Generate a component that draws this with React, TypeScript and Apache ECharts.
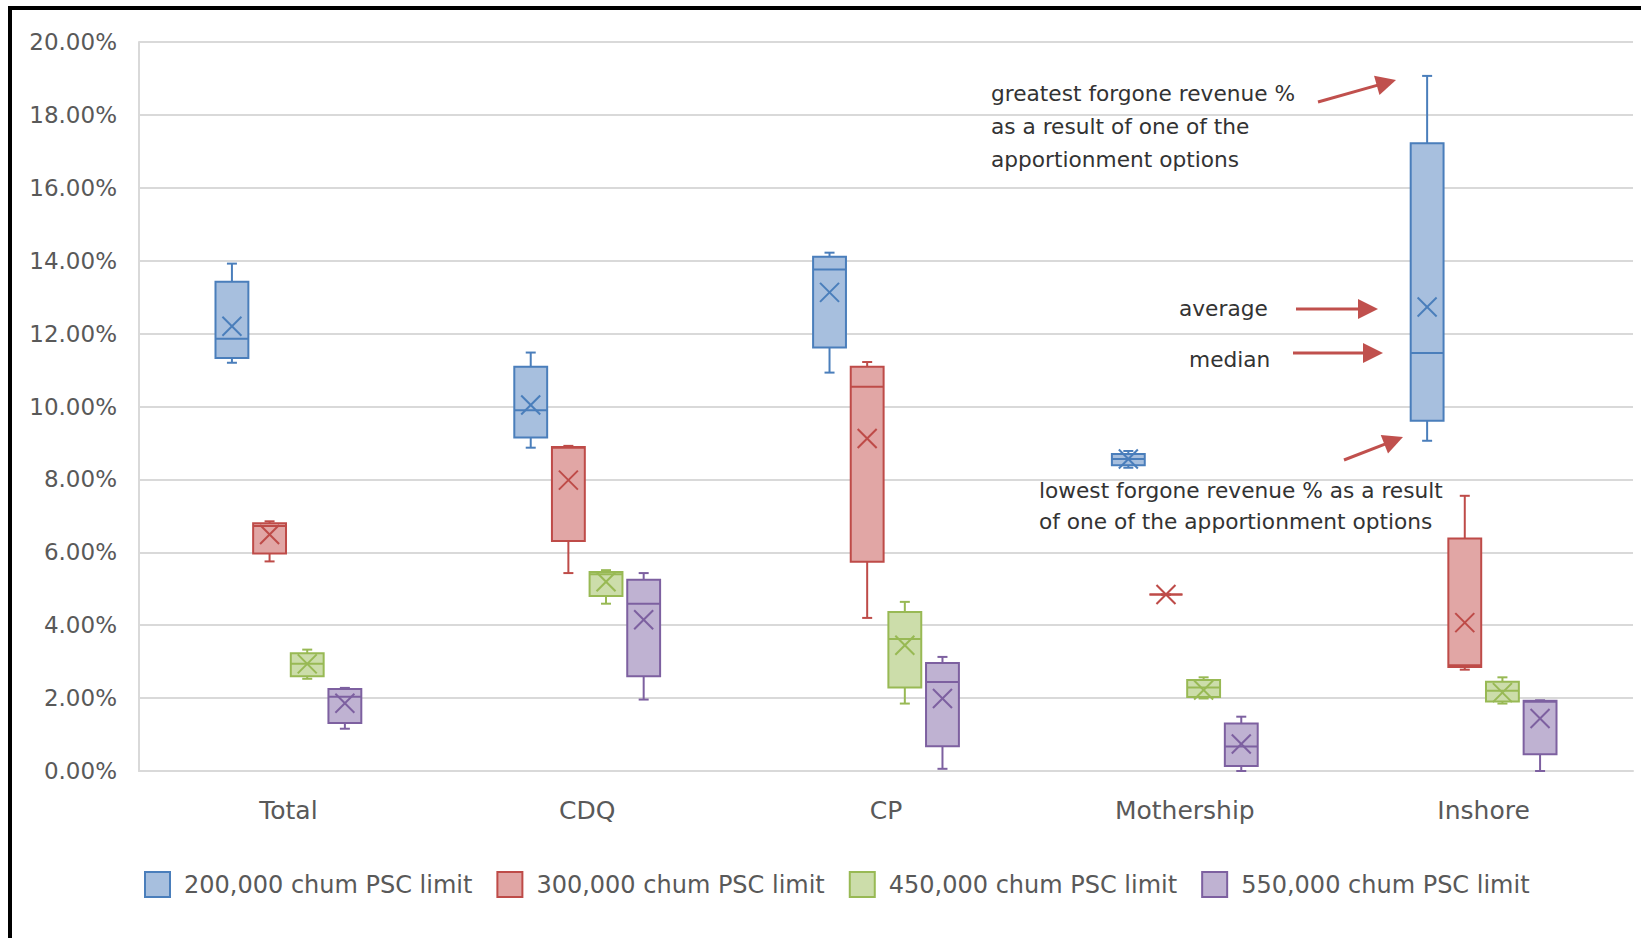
import React, { useEffect, useRef } from "react";
import * as echarts from "echarts";

// ---------- data ----------
const categories = ["Total", "CDQ", "CP", "Mothership", "Inshore"];
const seriesNames = [
  "200,000 chum PSC limit",
  "300,000 chum PSC limit",
  "450,000 chum PSC limit",
  "550,000 chum PSC limit",
];
// each row (one per category): [min, q1, median, q3, max, mean]  (percent)
const limit200k = [
  [11.2, 11.33, 11.86, 13.42, 13.92, 12.2],
  [8.87, 9.15, 9.9, 11.09, 11.48, 10.04],
  [10.93, 11.62, 13.76, 14.11, 14.22, 13.13],
  [8.32, 8.39, 8.56, 8.7, 8.78, 8.56],
  [9.06, 9.61, 11.47, 17.22, 19.07, 12.73],
];
const limit300k = [
  [5.75, 5.97, 6.72, 6.8, 6.85, 6.49],
  [5.43, 6.31, 8.87, 8.89, 8.92, 7.98],
  [4.2, 5.74, 10.54, 11.09, 11.22, 9.12],
  [4.84, 4.84, 4.84, 4.84, 4.84, 4.84],
  [2.78, 2.85, 2.9, 6.38, 7.55, 4.07],
];
const limit450k = [
  [2.53, 2.6, 2.94, 3.23, 3.33, 2.94],
  [4.59, 4.8, 5.4, 5.46, 5.51, 5.19],
  [1.85, 2.29, 3.62, 4.36, 4.64, 3.45],
  [1.99, 2.03, 2.29, 2.5, 2.57, 2.22],
  [1.85, 1.91, 2.2, 2.45, 2.57, 2.15],
];
const limit550k = [
  [1.16, 1.32, 2.04, 2.25, 2.28, 1.86],
  [1.96, 2.6, 4.59, 5.25, 5.43, 4.15],
  [0.06, 0.68, 2.44, 2.96, 3.13, 1.99],
  [0.0, 0.14, 0.67, 1.3, 1.49, 0.74],
  [0.0, 0.46, 1.9, 1.93, 1.94, 1.44],
];
const allSeries = [limit200k, limit300k, limit450k, limit550k];

const yMin = 0;
const yMax = 20;
const yStep = 2;

const annotationGreatest = [
  "greatest forgone revenue %",
  "as a result of one of the",
  "apportionment options",
];
const annotationLowest = [
  "lowest forgone revenue % as a result",
  "of one of the apportionment options",
];
const annotationAverage = "average";
const annotationMedian = "median";

// ---------- styles ----------
const fills = ["#A7BFDE", "#E1A6A5", "#CCDDAA", "#BFB2D2"];
const strokes = ["#4A7EBB", "#BE4B48", "#98B954", "#7D60A0"];
const FONT = '"DejaVu Sans", sans-serif';
const ARROW = "#C0504D";

function arrow(x1: number, y1: number, x2: number, y2: number) {
  const len = Math.hypot(x2 - x1, y2 - y1);
  const ux = (x2 - x1) / len;
  const uy = (y2 - y1) / len;
  const hl = 20;
  const hw = 10;
  const bx = x2 - ux * hl;
  const by = y2 - uy * hl;
  return [
    {
      type: "line",
      shape: { x1, y1, x2: bx + ux * 2, y2: by + uy * 2 },
      style: { stroke: ARROW, lineWidth: 3 },
      z: 100,
    },
    {
      type: "polygon",
      shape: {
        points: [
          [x2, y2],
          [bx - uy * hw, by + ux * hw],
          [bx + uy * hw, by - ux * hw],
        ],
      },
      style: { fill: ARROW },
      z: 100,
    },
  ];
}

function textLine(text: string, x: number, y: number) {
  return {
    type: "text",
    x,
    y,
    z: 100,
    style: {
      text,
      fill: "#333333",
      font: `21.7px ${FONT}`,
      verticalAlign: "middle",
      align: "left",
    },
  };
}

export default function App() {
  const ref = useRef<HTMLDivElement>(null);
  useEffect(() => {
    if (!ref.current) return;
    const chart = echarts.init(ref.current, undefined, { renderer: "svg" });

    const series = allSeries.map((rows, sIdx) => ({
      type: "custom",
      name: seriesNames[sIdx],
      itemStyle: { color: fills[sIdx], borderColor: strokes[sIdx], borderWidth: 2 },
      encode: { x: 0, y: [1, 2, 3, 4, 5, 6] },
      data: rows.map((r, i) => [i, ...r]),
      renderItem: (params: any, api: any) => {
        const cat = api.value(0);
        const bw = api.size([1, 0])[0];
        const off = (params.seriesIndex - 1.5) * bw * 0.126;
        const boxW = bw * 0.11;
        const x = api.coord([cat, 0])[0] + off;
        const y = (v: number) => api.coord([cat, v])[1];
        const mn = y(api.value(1));
        const q1 = y(api.value(2));
        const md = y(api.value(3));
        const q3 = y(api.value(4));
        const mx = y(api.value(5));
        const mean = y(api.value(6));
        const st = strokes[params.seriesIndex];
        const ls = { stroke: st, lineWidth: 2 };
        const cap = 5;
        const xs = 9.5;
        return {
          type: "group",
          children: [
            { type: "line", shape: { x1: x, y1: q3, x2: x, y2: mx }, style: ls },
            { type: "line", shape: { x1: x, y1: q1, x2: x, y2: mn }, style: ls },
            { type: "line", shape: { x1: x - cap, y1: mx, x2: x + cap, y2: mx }, style: ls },
            { type: "line", shape: { x1: x - cap, y1: mn, x2: x + cap, y2: mn }, style: ls },
            {
              type: "rect",
              shape: { x: x - boxW / 2, y: q3, width: boxW, height: q1 - q3 },
              style: { fill: fills[params.seriesIndex], stroke: st, lineWidth: 2 },
            },
            { type: "line", shape: { x1: x - boxW / 2, y1: md, x2: x + boxW / 2, y2: md }, style: ls },
            { type: "line", shape: { x1: x - xs, y1: mean - xs, x2: x + xs, y2: mean + xs }, style: ls },
            { type: "line", shape: { x1: x - xs, y1: mean + xs, x2: x + xs, y2: mean - xs }, style: ls },
          ],
        };
      },
    }));

    const graphics: any[] = [
      {
        type: "rect",
        shape: { x: 10, y: 8, width: 1700, height: 1000 },
        style: { fill: "none", stroke: "#000000", lineWidth: 4 },
        z: 100,
      },
      ...annotationGreatest.map((t, i) => textLine(t, 991, 93 + i * 33)),
      ...annotationLowest.map((t, i) => textLine(t, 1039, 490 + i * 31.5)),
      textLine(annotationAverage, 1179, 308),
      textLine(annotationMedian, 1189, 359),
      ...arrow(1318, 102, 1396, 80),
      ...arrow(1296, 309, 1378, 309),
      ...arrow(1293, 353, 1383, 353),
      ...arrow(1344, 460, 1403, 437),
    ];

    chart.setOption({
      animation: false,
      backgroundColor: "#ffffff",
      grid: { left: 139, right: 8, top: 42, bottom: 167, containLabel: false },
      xAxis: {
        type: "category",
        data: categories,
        axisLine: { show: true, lineStyle: { color: "#D9D9D9", width: 2 } },
        axisTick: { show: false },
        axisLabel: { color: "#595959", fontSize: 25, fontFamily: FONT, margin: 27 },
        splitLine: { show: false },
      },
      yAxis: {
        type: "value",
        min: yMin,
        max: yMax,
        interval: yStep,
        axisLine: { show: true, lineStyle: { color: "#D9D9D9", width: 2 } },
        axisTick: { show: false },
        axisLabel: {
          color: "#595959",
          fontSize: 23,
          fontFamily: FONT,
          margin: 22,
          formatter: (v: number) => `${v.toFixed(2)}%`,
        },
        splitLine: { lineStyle: { color: "#D9D9D9", width: 2 } },
      },
      legend: {
        left: 139,
        top: 866,
        itemWidth: 25,
        itemHeight: 25,
        itemGap: 24,
        icon: "rect",
        textStyle: { color: "#595959", fontSize: 24, fontFamily: FONT, padding: [0, 0, 0, 9] },
        data: seriesNames.map((n, i) => ({
          name: n,
          icon: "rect",
          itemStyle: { color: fills[i], borderColor: strokes[i], borderWidth: 2 },
        })),
      },
      graphic: graphics,
      series,
    });
    return () => chart.dispose();
  }, []);
  return (
    <div
      ref={ref}
      style={{ position: "fixed", left: 0, top: 0, width: 1641, height: 938, background: "#fff" }}
    />
  );
}
